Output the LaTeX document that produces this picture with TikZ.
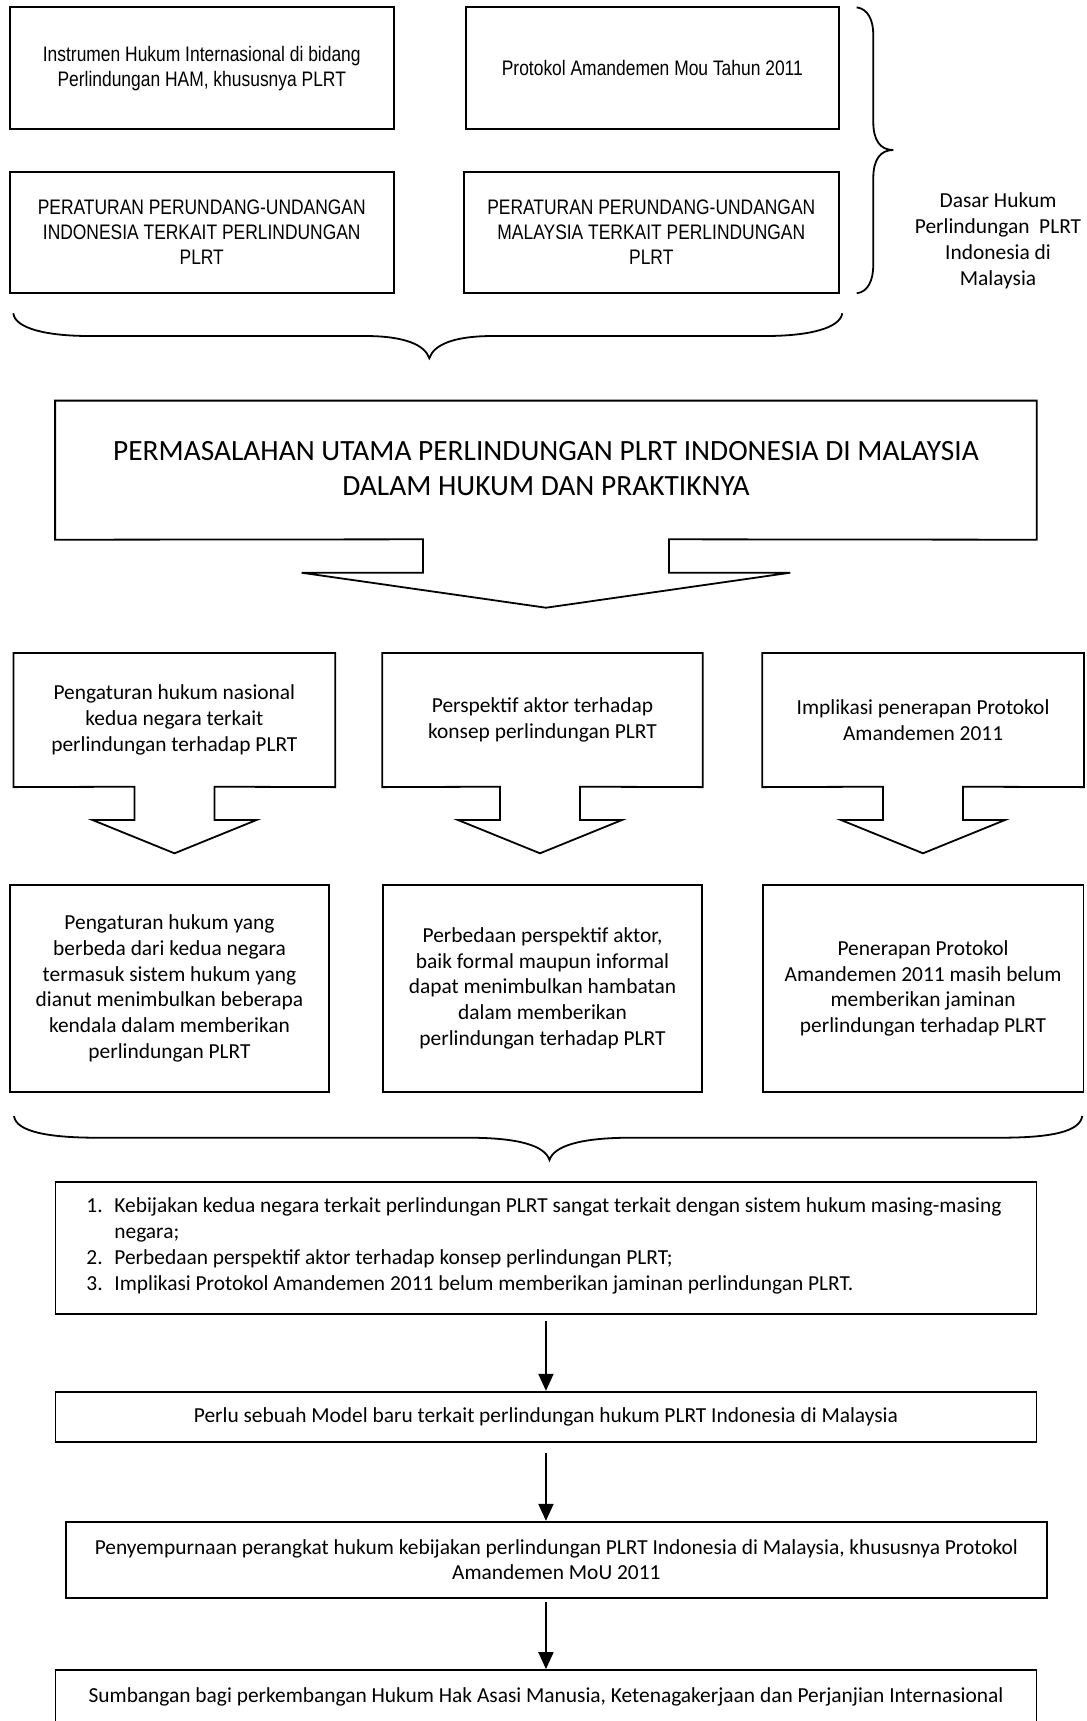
\documentclass[tikz,border=0pt]{standalone}
\usepackage{fontspec}
\setmainfont{Carlito}
\newfontfamily\narrowf[FakeStretch=0.83]{Liberation Sans}
\usetikzlibrary{fit,arrows.meta,calc}
\begin{document}
\begin{tikzpicture}[x=0.5pt,y=-0.5pt,
  txt/.style={inner sep=0pt, align=center, font=\fontsize{10.7}{12.9}\selectfont},
  frame/.style={inner sep=0pt, draw, line width=0.9pt},
  area/.style={inner sep=0pt},
  toptxt/.style={txt, font=\narrowf\fontsize{10.5}{12.6}\selectfont},
  brace/.style={line width=0.9pt},
  outline/.style={line width=0.9pt, line join=miter},
  conn/.style={line width=1pt, -{Triangle[width=7.5pt,length=8.5pt]}}
]
\useasboundingbox (0,0) rectangle (1087,1721);

% ---- top four boxes
\node[frame, fit={(9.7,7.3)(393.8,129.3)}] (a) {};
\node[toptxt] (a-t) at (a.center) {Instrumen Hukum Internasional di bidang\\Perlindungan HAM, khususnya PLRT};
\node[frame, fit={(465.9,7.3)(838.8,129.3)}] (b) {};
\node[toptxt] (b-t) at (b.center) {Protokol Amandemen Mou Tahun 2011};
\node[frame, fit={(9.7,171.7)(393.8,293)}] (c) {};
\node[toptxt] (c-t) at (c.center) {PERATURAN PERUNDANG-UNDANGAN\\INDONESIA TERKAIT PERLINDUNGAN\\PLRT};
\node[frame, fit={(463.8,171.7)(838.8,293)}] (d) {};
\node[toptxt] (d-t) at (d.center) {PERATURAN PERUNDANG-UNDANGAN\\MALAYSIA TERKAIT PERLINDUNGAN\\PLRT};

% right brace + label
\draw[brace] (856.7,7.3) .. controls (868,9) and (873.3,20) .. (873.3,35) -- (873.3,122)
  .. controls (873.3,140) and (880,150) .. (893.3,150)
  .. controls (880,150) and (873.3,160) .. (873.3,178) -- (873.3,265)
  .. controls (873.3,280) and (868,292) .. (856.7,293.3);
\node[txt, font=\fontsize{10.7}{13}\selectfont] (lbl) at (998,240.5) {Dasar Hukum\\Perlindungan\ \ PLRT\\Indonesia di\\Malaysia};

% bottom brace of top section
\draw[brace] (13.3,313.3) .. controls (15,328) and (45,336) .. (90,336) -- (365,336)
  .. controls (405,336) and (425,345) .. (429.3,358.3)
  .. controls (433.6,345) and (453,336) .. (493,336) -- (765,336)
  .. controls (810,336) and (840,328) .. (842.3,313.3);

% ---- main problem callout
\node[area, fit={(55.5,401)(1036.4,539.3)}] (title) {};
\node[txt, font=\fontsize{14.7}{17.5}\selectfont] (title-t) at ($(title.center)+(0,-1.5)$) {PERMASALAHAN UTAMA PERLINDUNGAN PLRT INDONESIA DI MALAYSIA\\DALAM HUKUM DAN PRAKTIKNYA};
\draw[outline] (title.north west) -- (title.north east) -- (title.south east) -- (669,539.3) -- (669,572.7) -- (790.3,572.7) -- (546,607.7) -- (301.6,572.7) -- (422.9,572.7) -- (422.9,539.3) -- (title.south west) -- cycle;

% ---- three question callouts
\node[area, fit={(13.9,653.3)(334.8,786.7)}] (q1) {};
\node[txt] (q1-t) at (q1.center) {Pengaturan hukum nasional\\kedua negara terkait\\perlindungan terhadap PLRT};
\draw[outline] (q1.north west) -- (q1.north east) -- (q1.south east) -- (214.5,786.7) -- (214.5,820) -- (256.5,820) -- (174.5,853.3) -- (92.5,820) -- (134.5,820) -- (134.5,786.7) -- (q1.south west) -- cycle;

\node[area, fit={(382.7,653.3)(702.3,786.7)}] (q2) {};
\node[txt] (q2-t) at (q2.center) {Perspektif aktor terhadap\\konsep perlindungan PLRT};
\draw[outline] (q2.north west) -- (q2.north east) -- (q2.south east) -- (580,786.7) -- (580,820) -- (622,820) -- (540,853.3) -- (458,820) -- (500,820) -- (500,786.7) -- (q2.south west) -- cycle;

\node[area, fit={(762.6,653.3)(1083.5,786.7)}] (q3) {};
\node[txt] (q3-t) at (q3.center) {Implikasi penerapan Protokol\\Amandemen 2011};
\draw[outline] (q3.north west) -- (q3.north east) -- (q3.south east) -- (963,786.7) -- (963,820) -- (1005,820) -- (923,853.3) -- (841,820) -- (883,820) -- (883,786.7) -- (q3.south west) -- cycle;

% ---- three finding boxes
\node[frame, fit={(9.7,885)(329.3,1091.7)}] (f1) {};
\node[txt] (f1-t) at (f1.center) {Pengaturan hukum yang\\berbeda dari kedua negara\\termasuk sistem hukum yang\\dianut menimbulkan beberapa\\kendala dalam memberikan\\perlindungan PLRT};
\node[frame, fit={(382.7,885)(702.3,1091.7)}] (f2) {};
\node[txt] (f2-t) at (f2.center) {Perbedaan perspektif aktor,\\baik formal maupun informal\\dapat menimbulkan hambatan\\dalam memberikan\\perlindungan terhadap PLRT};
\node[frame, fit={(762.6,885)(1083.5,1091.7)}] (f3) {};
\node[txt] (f3-t) at (f3.center) {Penerapan Protokol\\Amandemen 2011 masih belum\\memberikan jaminan\\perlindungan terhadap PLRT};

% brace under findings
\draw[brace] (14,1116) .. controls (16,1132) and (50,1137.7) .. (97,1137.7) -- (468,1137.7)
  .. controls (520,1137.7) and (545,1146) .. (549.5,1160)
  .. controls (554,1146) and (580,1137.7) .. (631,1137.7) -- (1000,1137.7)
  .. controls (1050,1137.7) and (1080,1132) .. (1082.2,1116);

% ---- conclusion list box
\node[frame, fit={(55.5,1181.7)(1036.4,1314)}] (list) {};
\node[txt, anchor=west, align=left] (list-t) at (86,1246.2) {%
\begin{tabular}{@{}p{14pt}@{}l@{}}
1.& Kebijakan kedua negara terkait perlindungan PLRT sangat terkait dengan sistem hukum masing-masing\\
  & negara;\\
2.& Perbedaan perspektif aktor terhadap konsep perlindungan PLRT;\\
3.& Implikasi Protokol Amandemen 2011 belum memberikan jaminan perlindungan PLRT.
\end{tabular}};

\node[frame, fit={(55.5,1391.7)(1036.4,1442.3)}] (perlu) {};
\node[txt] (perlu-t) at (perlu.center) {Perlu sebuah Model baru terkait perlindungan hukum PLRT Indonesia di Malaysia};
\node[frame, fit={(65.9,1521.7)(1046.8,1597.7)}] (peny) {};
\node[txt] (peny-t) at (peny.center) {Penyempurnaan perangkat hukum kebijakan perlindungan PLRT Indonesia di Malaysia, khususnya Protokol\\Amandemen MoU 2011};
\node[frame, fit={(55.5,1670)(1036.4,1723.4)}] (sumb) {};
\node[txt] (sumb-t) at (sumb.center) {Sumbangan bagi perkembangan Hukum Hak Asasi Manusia, Ketenagakerjaan dan Perjanjian Internasional};

% ---- arrows
\draw[conn, shorten <=3pt] (list.south) -- (perlu.north);
\draw[conn, shorten <=5pt] (perlu.south) -- (perlu.south |- peny.north);
\draw[conn, shorten <=1.5pt] (perlu.south |- peny.south) -- (perlu.south |- sumb.north);
\end{tikzpicture}
\end{document}
